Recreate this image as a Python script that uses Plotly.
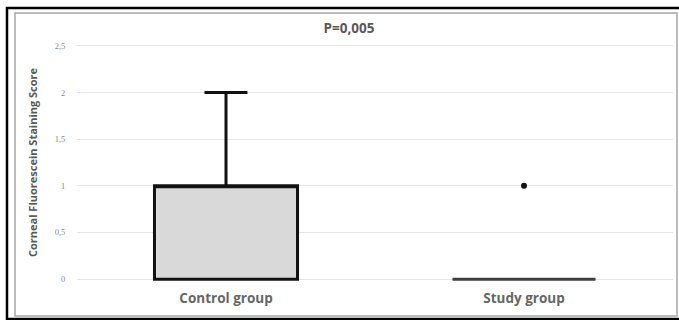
import plotly.graph_objects as go

categories = ["Control group", "Study group"]
q1 = [0, 0]
median = [1, 0]
q3 = [1, 0]
lower = [0, 0]
upper = [2, 0]
outlier_cat = ["Study group"]
outlier_val = [1]
tick_vals = [0, 0.5, 1, 1.5, 2, 2.5]
tick_text = ["0", "0,5", "1", "1,5", "2", "2,5"]
title_text = "P=0,005"
y_title = "Corneal Fluorescein Staining Score"

W, H = 679, 320
ML, MR, MT, MB = 77, 6, 44, 39
pw, ph = W - ML - MR, H - MT - MB

def px(x):
    return (x - ML) / pw

def py(y):
    return (H - MB - y) / ph

fig = go.Figure()
fig.add_trace(go.Box(
    x=[categories[0]], q1=[q1[0]], median=[median[0]], q3=[q3[0]],
    lowerfence=[lower[0]], upperfence=[upper[0]],
    fillcolor="#d9d9d9", line=dict(color="#111111", width=3),
    whiskerwidth=0.3, width=0.48, boxpoints=False, showlegend=False,
    hoverinfo="skip",
))
fig.add_trace(go.Box(
    x=[categories[1]], q1=[q1[1]], median=[median[1]], q3=[q3[1]],
    lowerfence=[lower[1]], upperfence=[upper[1]],
    fillcolor="#d9d9d9", line=dict(color="#404040", width=3),
    whiskerwidth=0.3, width=0.48, boxpoints=False, showlegend=False,
    hoverinfo="skip",
))
fig.add_trace(go.Scatter(
    x=outlier_cat, y=outlier_val, mode="markers",
    marker=dict(color="#111111", size=6), showlegend=False, hoverinfo="skip",
))

fig.update_layout(
    width=W, height=H,
    margin=dict(l=ML, r=MR, t=MT, b=MB),
    paper_bgcolor="white", plot_bgcolor="white",
    font=dict(family="Open Sans", color="#595959"),
    title=dict(text="<b>" + title_text + "</b>", x=349 / W, xref="container",
               xanchor="center", y=1 - 28 / H, yref="container", yanchor="middle",
               font=dict(size=13.5, color="#595959")),
    xaxis=dict(
        categoryorder="array", categoryarray=categories, range=[-0.5, 1.5],
        showgrid=False, showline=False, zeroline=False,
        ticks="outside", ticklen=5, tickcolor="rgba(0,0,0,0)",
        tickfont=dict(size=13.5, color="#666666", family="Open Sans"),
        tickprefix="<b>", ticksuffix="</b>",
    ),
    yaxis=dict(
        range=[-0.02, 2.52], tickvals=tick_vals, ticktext=tick_text,
        showgrid=True, gridcolor="#e4e4e4", gridwidth=1,
        zeroline=False, showline=False,
        ticks="outside", ticklen=9, tickcolor="rgba(0,0,0,0)",
        tickfont=dict(size=8.5, color="#8c8c8c", family="Liberation Serif"),
        title=dict(text="<b>" + y_title + "</b>", standoff=14,
                   font=dict(size=11, color="#595959", family="Open Sans")),
    ),
    shapes=[
        dict(type="rect", xref="paper", yref="paper",
             x0=px(15), x1=px(677), y0=py(316), y1=py(13),
             line=dict(color="#a6a6a6", width=1.5), layer="below"),
        dict(type="rect", xref="paper", yref="paper",
             x0=px(7), x1=px(682), y0=py(319), y1=py(8),
             line=dict(color="black", width=2.5), layer="above"),
    ],
)

fig.write_html("out.html", config={"displayModeBar": False},
               post_script="document.body.style.margin='0';")
